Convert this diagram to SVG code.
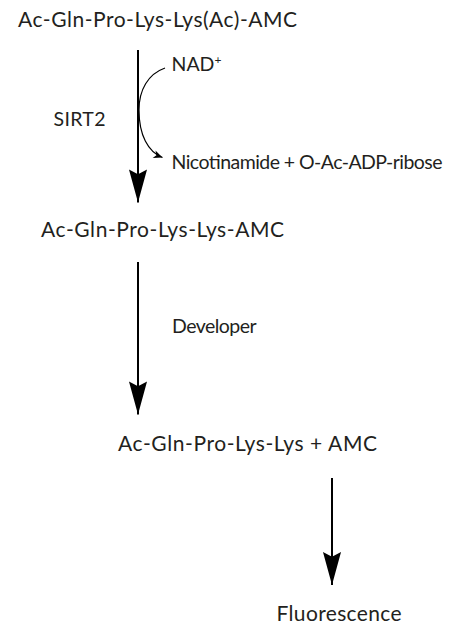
<svg xmlns="http://www.w3.org/2000/svg" width="459" height="623" viewBox="0 0 459 623">
<defs>
<style>
text{font-family:Lato,"Liberation Sans",sans-serif;fill:#231f20}
.big{font-size:21px}
.sm{font-size:19.5px}
.ln{stroke:#000;stroke-width:2;fill:none}
.thin{stroke:#000;stroke-width:1.2;fill:none}
</style>
<marker id="ah" markerUnits="userSpaceOnUse" markerWidth="34" markerHeight="20" refX="31" refY="9" orient="auto" viewBox="0 0 32 18" overflow="visible">
<path d="M0,0.5 L4.5,9 L0,17.5 L31,9 Z" fill="#000"/>
</marker>
<marker id="sh" markerUnits="userSpaceOnUse" markerWidth="10" markerHeight="10" refX="9" refY="4" orient="auto" viewBox="0 0 10 8" overflow="visible">
<path d="M0,0 L9,4 L0,8 L2.5,4 Z" fill="#000"/>
</marker>
</defs>
<g id="substrate"><text class="big" x="18" y="26.7" textLength="279" lengthAdjust="spacing">Ac-Gln-Pro-Lys-Lys(Ac)-AMC</text></g>
<g id="sirt2"><text class="sm" x="53.5" y="126" textLength="52" lengthAdjust="spacing">SIRT2</text></g>
<g id="nad"><text class="sm" x="171.5" y="71">NAD<tspan font-size="12" dy="-7">+</tspan></text></g>
<g id="nicotinamide"><text class="sm" x="171.5" y="168.5" textLength="271" lengthAdjust="spacing">Nicotinamide + O-Ac-ADP-ribose</text></g>
<g id="deacetylated"><text class="big" x="41" y="237.3" textLength="243" lengthAdjust="spacing">Ac-Gln-Pro-Lys-Lys-AMC</text></g>
<g id="developer"><text class="sm" x="172" y="333.3" textLength="84.5" lengthAdjust="spacing">Developer</text></g>
<g id="cleaved"><text class="big" x="118" y="451" textLength="259" lengthAdjust="spacing">Ac-Gln-Pro-Lys-Lys + AMC</text></g>
<g id="fluorescence"><text class="big" x="276.5" y="620.5" textLength="125" lengthAdjust="spacing">Fluorescence</text></g>
<g id="connectors">
<path class="ln" d="M138,50 V202.5" marker-end="url(#ah)"/>
<path class="thin" d="M165,68 C148,74 139,90 139,110 C139,135 148,152 162.5,157.5" marker-end="url(#sh)"/>
<path class="ln" d="M138,262 V414.5" marker-end="url(#ah)"/>
<path class="ln" d="M332,478 V585" marker-end="url(#ah)"/>
</g>
</svg>
